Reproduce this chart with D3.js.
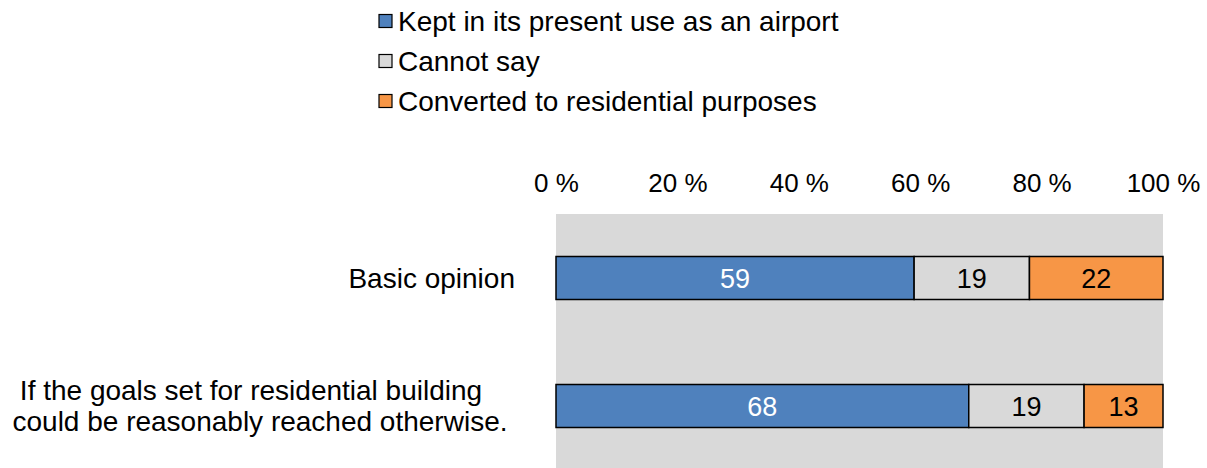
<!DOCTYPE html>
<html><head><meta charset="utf-8">
<script src="https://cdn.jsdelivr.net/npm/d3@7/dist/d3.min.js"></script>
<style>body{margin:0;background:#fff}svg{display:block;font-family:"Liberation Sans",Arial,sans-serif}</style>
</head><body><svg id="c" width="1207" height="468"></svg>
<script>
const categories = ["Basic opinion", "If the goals set for residential building|could be reasonably reached otherwise."];
const seriesNames = ["Kept in its present use as an airport", "Cannot say", "Converted to residential purposes"];
const keptValues = [59, 68];
const cannotSayValues = [19, 19];
const convertedValues = [22, 13];
const tickValues = [0, 20, 40, 60, 80, 100];
const tickLabels = ["0 %", "20 %", "40 %", "60 %", "80 %", "100 %"];
const colors = ["#4F81BD", "#D9D9D9", "#F79646"];
const labelColors = ["#ffffff", "#000000", "#000000"];

const svg = d3.select("#c");
const fs = 28;
const x = d3.scaleLinear().domain([0, 100]).range([556, 1163]);
const y = d3.scaleBand().domain(categories).range([214, 470]).padding(0);
const barH = 43;

svg.append("rect").attr("x", x(0)).attr("y", 214).attr("width", x(100) - x(0)).attr("height", 470 - 214).attr("fill", "#D9D9D9");

const axis = d3.axisTop(x).tickValues(tickValues).tickFormat((d, i) => tickLabels[i]).tickSize(0).tickPadding(0);
const ag = svg.append("g").attr("transform", "translate(0,192)").call(axis);
ag.select(".domain").remove();
ag.selectAll("text").attr("font-size", 26).attr("fill", "#000").attr("font-family", "Liberation Sans, Arial, sans-serif");

const series = [keptValues, cannotSayValues, convertedValues];
const rows = categories.map((c, i) => {
  let acc = 0;
  return series.map((s, k) => { const r = {cat: c, k, v: s[i], x0: acc, x1: acc + s[i]}; acc += s[i]; return r; });
});
const segs = rows.flat();
const bg = svg.append("g");
bg.selectAll("rect").data(segs).join("rect")
  .attr("x", d => x(d.x0)).attr("width", d => x(d.x1) - x(d.x0))
  .attr("y", d => y(d.cat) + y.bandwidth() / 2 - barH / 2).attr("height", barH)
  .attr("fill", d => colors[d.k]).attr("stroke", "#000").attr("stroke-width", 1.5);
bg.selectAll("text").data(segs).join("text")
  .attr("x", d => x((d.x0 + d.x1) / 2)).attr("y", d => y(d.cat) + y.bandwidth() / 2)
  .attr("dy", "0.36em").attr("text-anchor", "middle").attr("font-size", 27)
  .attr("fill", d => labelColors[d.k]).text(d => d.v);

const cg = svg.append("g");
categories.forEach((c, i) => {
  const lines = c.split("|");
  const cy = y(c) + y.bandwidth() / 2;
  if (lines.length === 1) {
    cg.append("text").attr("x", 515).attr("y", cy).attr("dy", "0.36em").attr("text-anchor", "end")
      .attr("font-size", fs).attr("fill", "#000").text(lines[0]);
  } else {
    lines.forEach((l, j) => {
      cg.append("text").attr("x", j === 0 ? 251 : 260).attr("y", cy - 16 + j * 31).attr("dy", "0.36em")
        .attr("text-anchor", "middle").attr("font-size", fs).attr("fill", "#000").text(l);
    });
  }
});

const lg = svg.append("g");
seriesNames.forEach((n, i) => {
  const cy = 21 + i * 40;
  lg.append("rect").attr("x", 379).attr("y", cy - 6.5).attr("width", 13).attr("height", 13)
    .attr("fill", colors[i]).attr("stroke", "#000").attr("stroke-width", 1.2);
  lg.append("text").attr("x", 398).attr("y", cy).attr("dy", "0.36em").attr("font-size", fs).attr("fill", "#000").text(n);
});
</script></body></html>
